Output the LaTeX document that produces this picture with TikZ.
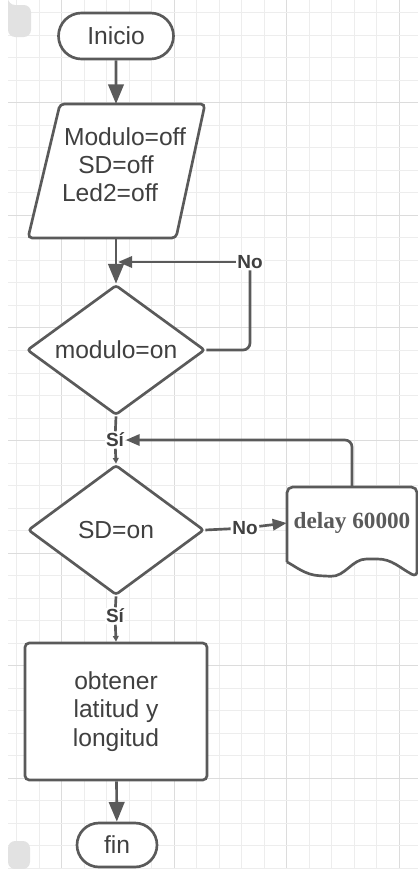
\documentclass[tikz,border=0pt]{standalone}
\usepackage{fontspec}
\setmainfont{Liberation Sans}
\newfontfamily\tiempos{Liberation Serif}
\usetikzlibrary{arrows.meta,shapes.geometric,shapes.misc}
\definecolor{trazo}{HTML}{5A5A5A}
\definecolor{letra}{HTML}{404040}
\definecolor{rejmen}{HTML}{EDEDED}
\definecolor{rejmay}{HTML}{DCDCDC}
\definecolor{pestana}{HTML}{E2E2E2}
\def\px{0.025cm}
\tikzset{
    caja/.style={draw=trazo,fill=white,line width=1.9pt,text=letra,
        font=\fontsize{17.5}{20.5}\selectfont,align=center},
    inicfin/.style={caja,rounded rectangle,inner sep=0pt},
    decision/.style={caja,diamond,aspect=1.37,inner sep=0pt,rounded corners=2pt},
    etiqueta/.style={fill=white,inner sep=1pt,text=letra,
        font=\bfseries\fontsize{13.5}{16}\selectfont},
    linea/.style={draw=trazo,line width=1.9pt},
    flecha/.style={linea,-{Triangle[length=14pt,width=11pt]}},
    flechamed/.style={linea,-{Triangle[length=10pt,width=8pt]}},
    flechita/.style={linea,-{Triangle[length=4pt,width=4pt]}},
    rejilla/.style={draw=rejmen,line width=0.6pt},
    rejillamay/.style={draw=rejmay,line width=0.7pt}
}
\begin{document}
\begin{tikzpicture}[x=\px,y=-\px]
            \useasboundingbox (0,0) rectangle (418,869);
            \foreach \i in {0,...,17}{
                \pgfmathsetmacro\xr{16.4+22.53*\i}
                \pgfmathtruncatemacro\ri{mod(\i,5)}
                \ifnum\ri=2
                    \draw[rejillamay] (\xr,0)--(\xr,869);
                \else
                    \draw[rejilla] (\xr,0)--(\xr,869);
                \fi}
            \foreach \j in {0,...,38}{
                \pgfmathsetmacro\yr{12.6+22.52*\j}
                \pgfmathtruncatemacro\rj{mod(\j,5)}
                \ifnum\rj=4
                    \draw[rejillamay] (8,\yr)--(418,\yr);
                \else
                    \draw[rejilla] (8,\yr)--(418,\yr);
                \fi}
            \fill[pestana,rounded corners=5pt] (8,0)--(8,37)--(31,37)--(31,5)--(8,5)--cycle;
            \fill[pestana,rounded corners=5pt] (8,869)--(8,841)--(30,841)--(30,869)--cycle;
            \node[inicfin,minimum width=115*\px,minimum height=46*\px] (inicio) at (116,36) {Inicio};
            \draw[caja,rounded corners=3pt] (60,104)--(205,104)--(176,238)--(28,238)--cycle;
            \node[text=letra,font=\fontsize{17.5}{20}\selectfont,align=center] (datos) at (116,165) {\hspace*{12.8pt}Modulo=off\\SD=off\\Led2=off\hspace*{8.5pt}};
            \coordinate (datosN) at (116,104);
            \coordinate (datosS) at (116,238);
            \coordinate (j1) at (118,262);
            \node[decision,minimum width=178*\px,minimum height=130*\px] (mod) at (116,350) {modulo=on};
            \node[decision,minimum width=176*\px,minimum height=130*\px] (sd) at (116,530) {SD=on};
            \draw[caja,rounded corners=4pt] (287,562)--(287,487)--(417,487)--(417,577)
                .. controls (400,568) and (392,559) .. (372,559)
                .. controls (352,559) and (345,577) .. (325,576)
                .. controls (305,575) and (295,566) .. (287,562);
            \node[minimum width=130*\px,minimum height=72*\px,text=trazo,font=\tiempos\bfseries\fontsize{16.5}{18}\selectfont] (delay) at (352,523) {delay 60000};
            \node[caja,rectangle,rounded corners=3pt,minimum width=182*\px,minimum height=137*\px] (gps) at (116,711.5) {obtener\\latitud y\\longitud};
            \node[inicfin,minimum width=80*\px,minimum height=44*\px] (fin) at (117,845) {fin};
            \node[etiqueta] (no1) at (250,262) {No};
            \node[etiqueta] (si1) at (115,440) {Sí};
            \node[etiqueta] (no2) at (245,528) {No};
            \node[etiqueta] (si2) at (115,616) {Sí};
            \draw[flecha] (inicio)--(datosN);
            \draw[flecha] (datosS)--(mod);
            \draw[linea,rounded corners=5pt] (mod.east)-|(no1);
            \draw[flechamed] (no1)--(j1);
            \draw[linea] (mod.south)--(si1);
            \draw[flechita] (si1)--(sd.north);
            \draw[flechamed,rounded corners=5pt] (delay.north)|-(si1);
            \draw[linea] (sd.east)--(no2);
            \draw[flechamed] (no2)--(delay.west);
            \draw[linea] (sd.south)--(si2);
            \draw[flechita] (si2)--(gps.north);
            \draw[flecha] (gps)--(fin);
        \end{tikzpicture}
\end{document}
